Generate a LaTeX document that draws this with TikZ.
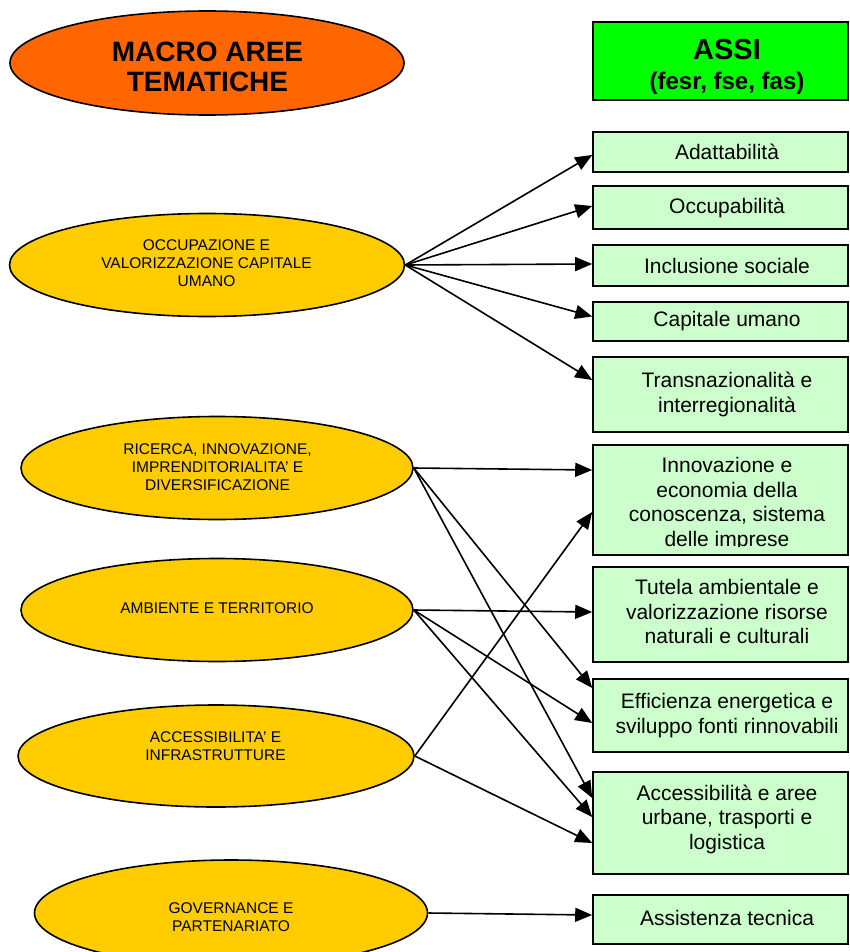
\documentclass[tikz,border=0pt]{standalone}
\usepackage{fontspec}
\setmainfont{Liberation Sans}
\usetikzlibrary{arrows.meta,shapes.geometric,calc}
\definecolor{hdrorange}{HTML}{FF6600}
\definecolor{hdrgreen}{HTML}{00FF00}
\definecolor{ellyellow}{HTML}{FFCC00}
\definecolor{boxgreen}{HTML}{CCFFCC}
\begin{document}
\begin{tikzpicture}[x=1pt,y=-1pt,
  ell/.style={ellipse, draw=black, line width=1.6pt, fill=ellyellow, inner sep=0pt,
              minimum width=394pt, minimum height=103pt},
  elltext/.style={align=center, inner sep=0pt, font=\fontsize{15.5}{18}\selectfont},
  axisbox/.style={rectangle, draw=black, line width=1.6pt, fill=boxgreen, inner sep=0pt,
              minimum width=255pt},
  boxtext/.style={align=center, inner sep=0pt, font=\fontsize{21}{24.5}\selectfont},
  link/.style={line width=1.6pt, -{Triangle[length=17pt,width=14pt]}}
]
\useasboundingbox (0,0) rectangle (849,952);
\fill[white] (0,0) rectangle (849,952);
\clip (0,0) rectangle (849,952);

% headers
\node[ellipse, draw=black, line width=1.6pt, fill=hdrorange, inner sep=0pt,
      minimum width=394pt, minimum height=104pt] (hdr) at (207,63) {};
\node[align=center, inner sep=0pt, font=\fontsize{28}{30}\selectfont\bfseries] (hdrT) at (207.5,66.5)
  {MACRO AREE\\TEMATICHE};
\node[rectangle, draw=black, line width=1.6pt, fill=hdrgreen, inner sep=0pt,
      minimum width=255pt, minimum height=78pt] (assi) at (720.5,61) {};
\node[align=center, inner sep=0pt, font=\fontsize{24}{30}\selectfont\bfseries] (assiT) at (727,67)
  {{\fontsize{29}{30}\selectfont ASSI}\\(fesr, fse, fas)};

% macro areas
\node[ell, minimum width=395pt] (occ) at (207,265) {};
\node[elltext] (occT) at (206.5,263.5) {OCCUPAZIONE E\\VALORIZZAZIONE CAPITALE\\UMANO};
\node[ell, minimum width=392pt] (ric) at (217,468) {};
\node[elltext] (ricT) at (217.5,466.7) {RICERCA, INNOVAZIONE,\\IMPRENDITORIALITA' E\\DIVERSIFICAZIONE};
\node[ell, minimum width=392pt] (amb) at (217,610) {};
\node[elltext] (ambT) at (217,608.5) {AMBIENTE E TERRITORIO};
\node[ell, minimum width=396pt, minimum height=102pt] (acc) at (216,756) {};
\node[elltext] (accT) at (215.5,746.3) {ACCESSIBILITA' E\\INFRASTRUTTURE};
\node[ell, minimum width=393pt, minimum height=106pt] (gov) at (231,913) {};
\node[elltext] (govT) at (231,917.5) {GOVERNANCE E\\PARTENARIATO};

% axes
\node[axisbox, minimum height=40pt,
      label={[boxtext, xshift=6.5pt]center:Adattabilità}] (adatt) at (720.5,152) {};
\node[axisbox, minimum height=43pt,
      label={[boxtext, xshift=6.5pt]center:Occupabilità}] (occup) at (720.5,207.5) {};
\node[axisbox, minimum height=41pt,
      label={[boxtext, xshift=6.5pt]center:Inclusione sociale}] (incl) at (720.5,265.5) {};
\node[axisbox, minimum height=39pt,
      label={[boxtext, xshift=6.5pt]center:Capitale umano}] (capit) at (720.5,321.5) {};
\node[axisbox, minimum height=75pt,
      label={[boxtext, xshift=6.5pt]center:Transnazionalità e\\interregionalità}] (trans) at (720.5,394.5) {};
\node[axisbox, minimum height=110pt] (innov) at (720.5,500) {};
\begin{scope}
  \clip (innov.north west) rectangle ([yshift=9pt]innov.south east);
  \node[boxtext] (innovT) at (727,504)
    {Innovazione e\\economia della\\conoscenza, sistema\\delle imprese};
\end{scope}
\node[axisbox, minimum height=95pt,
      label={[boxtext, xshift=6.5pt, yshift=3pt]center:Tutela ambientale e\\valorizzazione risorse\\naturali e culturali}] (tutela) at (720.5,614.5) {};
\node[axisbox, minimum height=73pt,
      label={[boxtext, xshift=6.5pt]center:Efficienza energetica e\\sviluppo fonti rinnovabili}] (effic) at (720.5,715.5) {};
\node[axisbox, minimum height=102pt,
      label={[boxtext, xshift=6.5pt, yshift=4pt]center:Accessibilità e aree\\urbane, trasporti e\\logistica}] (access) at (720.5,823) {};
\node[axisbox, minimum height=49pt,
      label={[boxtext, xshift=6.5pt, yshift=2pt]center:Assistenza tecnica}] (assist) at (720.5,919.5) {};

% connectors
\draw[link] (occ.east) -- ($(adatt.west)+(0,3)$);
\draw[link] (occ.east) -- ($(occup.west)+(0,-1.5)$);
\draw[link] (occ.east) -- ($(incl.west)+(0,-1.5)$);
\draw[link] (occ.east) -- ($(capit.west)+(0,-5)$);
\draw[link] (occ.east) -- ($(trans.west)+(0,-14.5)$);

\draw[link] (ric.east) -- ($(innov.west)+(0,-30)$);
\draw[link] (ric.east) -- ($(effic.west)+(0,-27.5)$);
\draw[link] (ric.east) -- ($(access.west)+(0,-25)$);

\draw[link] (amb.east) -- ($(tutela.west)+(0,-2.5)$);
\draw[link] (amb.east) -- ($(effic.west)+(0,7.5)$);
\draw[link] (amb.east) -- ($(access.west)+(0,-6)$);

\draw[link] (acc.east) -- ($(innov.west)+(0,12)$);
\draw[link] (acc.east) -- ($(access.west)+(0,20)$);

\draw[link] (gov.east) -- ($(assist.west)+(0,-4.5)$);
\end{tikzpicture}
\end{document}
